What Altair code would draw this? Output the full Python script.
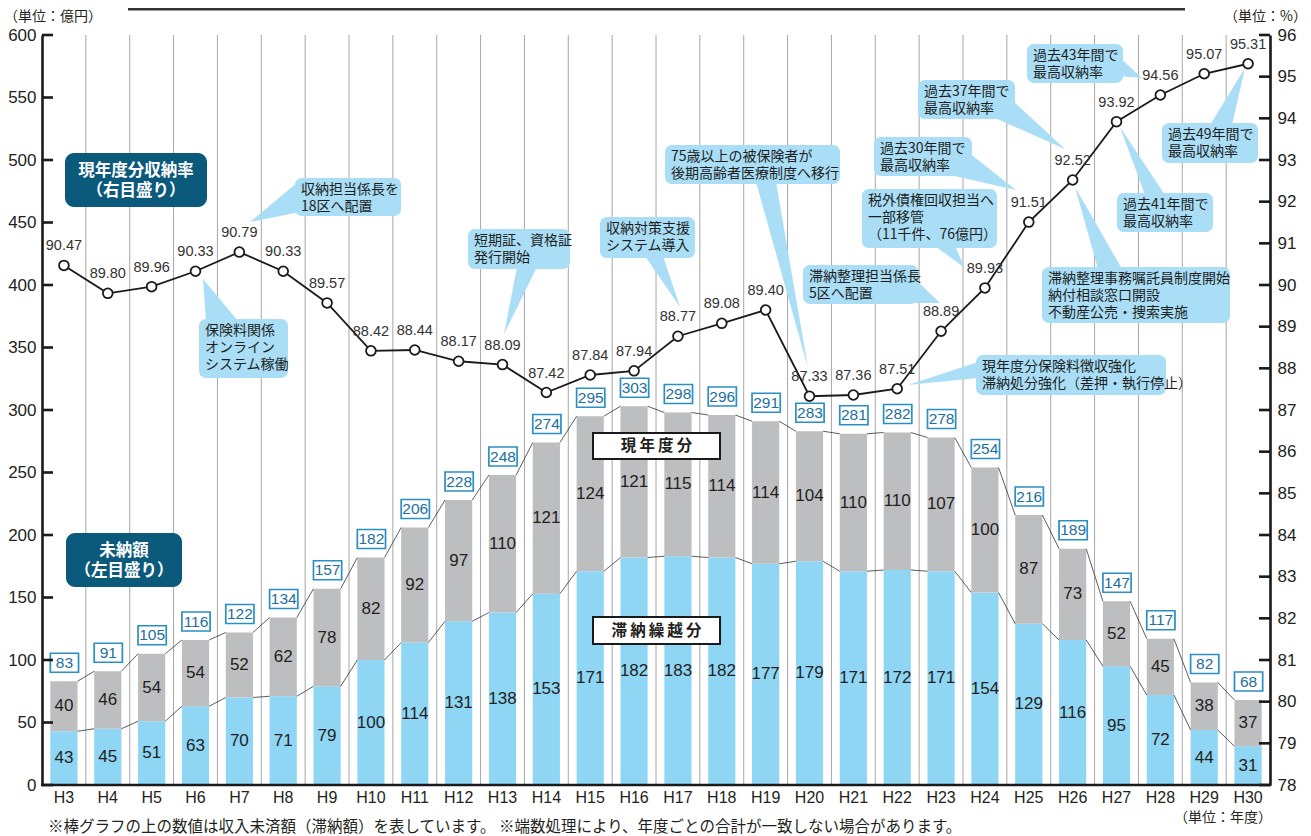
import altair as alt
import pandas as pd

# ---------------- data ----------------
years = ["H3", "H4", "H5", "H6", "H7", "H8", "H9", "H10", "H11", "H12", "H13", "H14",
         "H15", "H16", "H17", "H18", "H19", "H20", "H21", "H22", "H23", "H24", "H25",
         "H26", "H27", "H28", "H29", "H30"]
arrears = [43, 45, 51, 63, 70, 71, 79, 100, 114, 131, 138, 153, 171, 182, 183, 182, 177,
           179, 171, 172, 171, 154, 129, 116, 95, 72, 44, 31]          # 滞納繰越分
current = [40, 46, 54, 54, 52, 62, 78, 82, 92, 97, 110, 121, 124, 121, 115, 114, 114,
           104, 110, 110, 107, 100, 87, 73, 52, 45, 38, 37]            # 現年度分
totals = [83, 91, 105, 116, 122, 134, 157, 182, 206, 228, 248, 274, 295, 303, 298, 296,
          291, 283, 281, 282, 278, 254, 216, 189, 147, 117, 82, 68]    # 収入未済額
rates = [90.47, 89.80, 89.96, 90.33, 90.79, 90.33, 89.57, 88.42, 88.44, 88.17, 88.09,
         87.42, 87.84, 87.94, 88.77, 89.08, 89.40, 87.33, 87.36, 87.51, 88.89, 89.93,
         91.51, 92.52, 93.92, 94.56, 95.07, 95.31]                     # 現年度分収納率
left_ticks = list(range(0, 601, 50))
right_ticks = list(range(78, 97))

# annotation texts and their boxes (page pixels: x0, y0, x1, y1) and pointer triangles
callouts = [
    ("収納担当係長を\n18区へ配置", (295, 178, 401, 216), [(298, 182), (300, 212), (250, 222)]),
    ("保険料関係\nオンライン\nシステム稼働", (199, 319, 288, 378), [(206, 321), (238, 321), (203, 279)]),
    ("短期証、資格証\n発行開始", (468, 229, 570, 269), [(517, 267), (537, 267), (504, 334)]),
    ("収納対策支援\nシステム導入", (600, 217, 695, 258), [(645, 256), (663, 256), (680, 307)]),
    ("75歳以上の被保険者が\n後期高齢者医療制度へ移行", (665, 145, 840, 184), [(756, 182), (776, 182), (808, 368)]),
    ("税外債権回収担当へ\n一部移管\n（11千件、76億円）", (862, 189, 997, 248), [(935, 246), (955, 246), (965, 268)]),
    ("滞納整理担当係長\n5区へ配置", (803, 265, 918, 304), [(916, 280), (900, 303), (940, 303)]),
    ("過去30年間で\n最高収納率", (874, 137, 972, 176), [(968, 152), (950, 175), (1016, 190)]),
    ("過去37年間で\n最高収納率", (918, 80, 1015, 119), [(1012, 100), (995, 118), (1065, 149)]),
    ("過去43年間で\n最高収納率", (1027, 44, 1123, 83), [(1120, 58), (1118, 76), (1142, 78)]),
    ("過去49年間で\n最高収納率", (1162, 123, 1258, 163), [(1210, 125), (1232, 125), (1245, 68)]),
    ("過去41年間で\n最高収納率", (1117, 193, 1213, 232), [(1145, 195), (1165, 195), (1120, 127)]),
    ("滞納整理事務嘱託員制度開始\n納付相談窓口開設\n不動産公売・捜索実施", (1042, 267, 1230, 323), [(1098, 269), (1122, 269), (1075, 187)]),
    ("現年度分保険料徴収強化\n滞納処分強化（差押・執行停止）", (976, 355, 1166, 395), [(978, 362), (978, 378), (908, 385)]),
]
dark_boxes = [
    ("現年度分収納率\n（右目盛り）", (65, 153, 207, 207)),
    ("未納額\n（左目盛り）", (66, 533, 182, 587)),
]
white_boxes = [
    ("現\u2009年\u2009度\u2009分", (593, 433, 720, 459)),
    ("滞\u2009納\u2009繰\u2009越\u2009分", (593, 617, 720, 644)),
]
notes = [
    ("（単位：億円）", (4, 17), 14),
    ("（単位：%）", (1224, 17), 14),
    ("（単位：年度）", (1174, 818), 14),
    ("※棒グラフの上の数値は収入未済額（滞納額）を表しています。 ※端数処理により、年度ごとの合計が一致しない場合があります。", (48, 827), 15.5),
]

# ---------------- layout / style ----------------
W, H = 1228, 750
OX, OY = 42, 35   # page position of plot origin
n = len(years)
NUM = "Liberation Sans Narrow, Liberation Sans, Arial, sans-serif"
AX = "Liberation Sans, Arial, sans-serif"
CJK = "Noto Sans CJK JP, sans-serif"
BLUE = "#8ed6f4"
GRAY = "#bdbec0"
CALL = "#a9def6"
DARK = "#0c5a7b"
INK = "#231f20"

df = pd.DataFrame({"i": list(range(n)), "year": years, "blue": arrears,
                   "gray": current, "total": totals, "rate": rates})
df["next_total"] = totals[1:] + [None]
df["next_blue"] = arrears[1:] + [None]

XS = alt.Scale(domain=[-0.5, n - 0.5], nice=False, zero=False)
YL = alt.Scale(domain=[0, 600], nice=False, zero=False)
YR = alt.Scale(domain=[78, 96], nice=False, zero=False)

base = alt.Chart(df).transform_calculate(
    xl="datum.i - 0.31", xr="datum.i + 0.31", xn="datum.i + 0.69",
    bmid="datum.blue / 2", gmid="(datum.blue + datum.total) / 2", zero="0")

left_axis = alt.Axis(values=left_ticks, title=None, ticks=False, grid=False, orient="left",
                     domainColor="#1a1a1a", domainWidth=2.6, labelFont=AX, labelFontSize=17,
                     labelColor=INK, labelPadding=6, labelFlush=False)
right_axis = alt.Axis(values=right_ticks, title=None, ticks=False, grid=False, orient="right",
                      domainColor="#1a1a1a", domainWidth=2.6, labelFont=AX, labelFontSize=17,
                      labelColor=INK, labelPadding=7, labelFlush=False)

grid = base.transform_filter(f"datum.i < {n - 1}").transform_calculate(b="datum.i + 0.5").mark_rule(
    color="#a6a6a6", strokeWidth=1).encode(
    x=alt.X("b:Q", scale=XS, axis=None), y=alt.value(0), y2=alt.value(H))

blue_bar = base.mark_rect(color=BLUE).encode(
    x=alt.X("xl:Q", scale=XS, axis=None), x2="xr:Q",
    y=alt.Y("blue:Q", scale=YL, axis=left_axis), y2="zero:Q")
gray_bar = base.mark_rect(color=GRAY).encode(
    x=alt.X("xl:Q", scale=XS, axis=None), x2="xr:Q",
    y=alt.Y("total:Q", scale=YL, axis=None), y2="blue:Q")

conn_top = base.transform_filter("datum.next_total != null").mark_rule(
    color="#333333", strokeWidth=0.8).encode(
    x=alt.X("xr:Q", scale=XS, axis=None), x2="xn:Q",
    y=alt.Y("total:Q", scale=YL, axis=None), y2="next_total:Q")
conn_low = base.transform_filter("datum.next_blue != null").mark_rule(
    color="#333333", strokeWidth=0.8).encode(
    x=alt.X("xr:Q", scale=XS, axis=None), x2="xn:Q",
    y=alt.Y("blue:Q", scale=YL, axis=None), y2="next_blue:Q")

lab_blue = base.mark_text(font=NUM, fontSize=17, color=INK, baseline="middle").encode(
    x=alt.X("i:Q", scale=XS, axis=None), y=alt.Y("bmid:Q", scale=YL, axis=None), text="blue:Q")
lab_gray = base.mark_text(font=NUM, fontSize=17, color=INK, baseline="middle").encode(
    x=alt.X("i:Q", scale=XS, axis=None), y=alt.Y("gmid:Q", scale=YL, axis=None), text="gray:Q")

tot_box = base.mark_rect(fill="white", stroke="#2a8fc4", strokeWidth=1.7,
                         yOffset=-9, y2Offset=-28, x2Offset=1).encode(
    x=alt.X("xl:Q", scale=XS, axis=None), x2="xr:Q",
    y=alt.Y("total:Q", scale=YL, axis=None), y2="total:Q")
tot_txt = base.mark_text(font=NUM, fontSize=15.5, color="#1d6f9c", baseline="middle",
                         dy=-18.5, dx=0.5).encode(
    x=alt.X("i:Q", scale=XS, axis=None), y=alt.Y("total:Q", scale=YL, axis=None), text="total:Q")

# category labels under the baseline
x_lab = base.mark_text(font=NUM, fontSize=16, color=INK, baseline="middle").encode(
    x=alt.X("i:Q", scale=XS, axis=None), y=alt.value(H + 13), text="year:N")
baseline_rule = alt.Chart(pd.DataFrame({"a": [0]})).mark_rule(color="#1a1a1a", strokeWidth=2.6).encode(
    x=alt.value(-1), x2=alt.value(W + 1), y=alt.value(H))

rate_line = base.mark_line(color="#1a1a1a", strokeWidth=1.8).encode(
    x=alt.X("i:Q", scale=XS, axis=None), y=alt.Y("rate:Q", scale=YR, axis=right_axis))
rate_pts = base.mark_point(shape="circle", filled=True, fill="white", stroke="#1a1a1a",
                           strokeWidth=1.8, size=95, opacity=1).encode(
    x=alt.X("i:Q", scale=XS, axis=None), y=alt.Y("rate:Q", scale=YR, axis=None))
rate_lab = base.mark_text(font=NUM, fontSize=14.5, color="#333333", baseline="middle", dy=-19).encode(
    x=alt.X("i:Q", scale=XS, axis=None), y=alt.Y("rate:Q", scale=YR, axis=None),
    text=alt.Text("rate:Q", format=".2f"))

# inward ticks on both value axes
ltick = alt.Chart(pd.DataFrame({"v": left_ticks})).mark_rule(color="#1a1a1a", strokeWidth=2.6).encode(
    y=alt.Y("v:Q", scale=YL, axis=None), x=alt.value(0), x2=alt.value(11))
rtick = alt.Chart(pd.DataFrame({"v": right_ticks})).mark_rule(color="#1a1a1a", strokeWidth=2.6).encode(
    y=alt.Y("v:Q", scale=YR, axis=None), x=alt.value(W - 11), x2=alt.value(W))

# annotations
crow = []
for text, (x0, y0, x1, y1), tri in callouts:
    path = "M" + " L".join(f"{px - OX},{py - OY}" for px, py in tri) + " Z"
    crow.append({"text": text, "x0": x0 - OX, "y0": y0 - OY, "x1": x1 - OX, "y1": y1 - OY,
                 "tx": x0 - OX + 6, "ty": y0 - OY + 5, "path": path})
cdf = pd.DataFrame(crow)
call_box = alt.Chart(cdf).mark_rect(color=CALL, cornerRadius=7).encode(
    x=alt.X("x0:Q", scale=None), x2="x1:Q", y=alt.Y("y0:Q", scale=None), y2="y1:Q")
call_ptr = alt.Chart(cdf).mark_point(filled=True, color=CALL, opacity=1, strokeWidth=0, size=4).encode(
    x=alt.value(0), y=alt.value(0), shape=alt.Shape("path:N", scale=None, legend=None))
call_txt = alt.Chart(cdf).mark_text(font=CJK, fontSize=14, lineHeight=17, lineBreak="\n",
                                    align="left", baseline="top", color="#1e1e1e").encode(
    x=alt.X("tx:Q", scale=None), y=alt.Y("ty:Q", scale=None), text="text:N")

drow = [{"text": t, "x0": a - OX, "y0": b - OY, "x1": c - OX, "y1": d - OY,
         "tx": (a + c) / 2 - OX, "ty": b - OY + 10} for t, (a, b, c, d) in dark_boxes]
ddf = pd.DataFrame(drow)
dark_box = alt.Chart(ddf).mark_rect(color=DARK, cornerRadius=9).encode(
    x=alt.X("x0:Q", scale=None), x2="x1:Q", y=alt.Y("y0:Q", scale=None), y2="y1:Q")
dark_txt = alt.Chart(ddf).mark_text(font=CJK, fontSize=16.5, fontWeight="bold", lineHeight=20,
                                    lineBreak="\n", align="center", baseline="top", color="white").encode(
    x=alt.X("tx:Q", scale=None), y=alt.Y("ty:Q", scale=None), text="text:N")

wrow = [{"text": t, "x0": a - OX, "y0": b - OY, "x1": c - OX, "y1": d - OY,
         "tx": (a + c) / 2 - OX, "ty": (b + d) / 2 - OY} for t, (a, b, c, d) in white_boxes]
wdf = pd.DataFrame(wrow)
white_box = alt.Chart(wdf).mark_rect(fill="white", stroke="#1a1a1a", strokeWidth=2).encode(
    x=alt.X("x0:Q", scale=None), x2="x1:Q", y=alt.Y("y0:Q", scale=None), y2="y1:Q")
white_txt = alt.Chart(wdf).mark_text(font=CJK, fontSize=15.5, fontWeight="bold",
                                     align="center", baseline="middle", color=INK).encode(
    x=alt.X("tx:Q", scale=None), y=alt.Y("ty:Q", scale=None), text="text:N")

ndf = pd.DataFrame([{"text": t, "x": a - OX, "y": b - OY, "s": s} for t, (a, b), s in notes])
note_txt = alt.Chart(ndf).mark_text(font=CJK, align="left", baseline="middle",
                                    color=INK).encode(
    x=alt.X("x:Q", scale=None), y=alt.Y("y:Q", scale=None), text="text:N",
    size=alt.Size("s:Q", scale=None, legend=None))

top_line = alt.Chart(pd.DataFrame({"a": [0]})).mark_rule(color="#333333", strokeWidth=3).encode(
    x=alt.value(128 - OX), x2=alt.value(1185 - OX), y=alt.value(-26))

chart = alt.layer(
    grid, blue_bar, gray_bar, conn_top, conn_low, lab_blue, lab_gray, tot_box, tot_txt,
    white_box, white_txt, dark_box, dark_txt, call_box, call_ptr, call_txt,
    rate_line, rate_pts, rate_lab, baseline_rule, x_lab, ltick, rtick, note_txt, top_line
).resolve_scale(y="independent").properties(
    width=W, height=H,
    padding={"left": OX - 8, "top": OY - 8, "right": 33, "bottom": 50},
    autosize=alt.AutoSizeParams(type="none"),
    background="white",
).configure_view(strokeWidth=0)

chart.save("out.html", embed_options={"renderer": "svg", "actions": False})
